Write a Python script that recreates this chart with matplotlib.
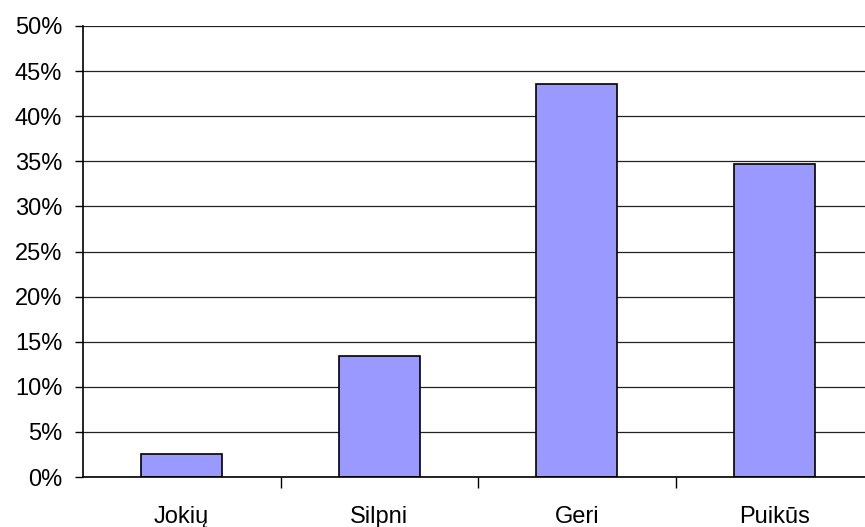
import numpy as np
import matplotlib.pyplot as plt
from matplotlib.ticker import FuncFormatter, FixedLocator

plt.rcParams['font.family'] = ['Liberation Sans', 'DejaVu Sans']

categories = ['Jokių', 'Silpni', 'Geri', 'Puikūs']
values = [2.6, 13.4, 43.6, 34.7]
y_ticks = [0, 5, 10, 15, 20, 25, 30, 35, 40, 45, 50]

fig = plt.figure(figsize=(8.65, 5.27), dpi=100)
ax = fig.add_axes([83 / 865, 50 / 527, 790 / 865, 451 / 527])

x = np.arange(len(categories))
ax.bar(x, values, width=0.41, color='#9999FF', edgecolor='black', linewidth=1.2, zorder=3)

ax.set_xlim(-0.5, len(categories) - 0.5)
ax.set_ylim(0, 50)
ax.set_yticks(y_ticks)
ax.yaxis.set_major_formatter(FuncFormatter(lambda v, p: f'{v:.0f}%'))
ax.grid(axis='y', color='#222222', linewidth=0.9, zorder=0)

ax.set_xticks(x)
ax.set_xticklabels(categories)
ax.xaxis.set_minor_locator(FixedLocator(x[:-1] + 0.5))
ax.tick_params(axis='x', which='major', length=0, pad=21, labelsize=17)
ax.tick_params(axis='x', which='minor', length=8, width=1, direction='out')
ax.tick_params(axis='y', length=6, width=1, direction='out', pad=9, labelsize=17)

for side in ['top', 'right']:
    ax.spines[side].set_visible(False)
for side in ['left', 'bottom']:
    ax.spines[side].set_linewidth(1.2)
    ax.spines[side].set_zorder(4)

fig.savefig('out.png', dpi=100)
